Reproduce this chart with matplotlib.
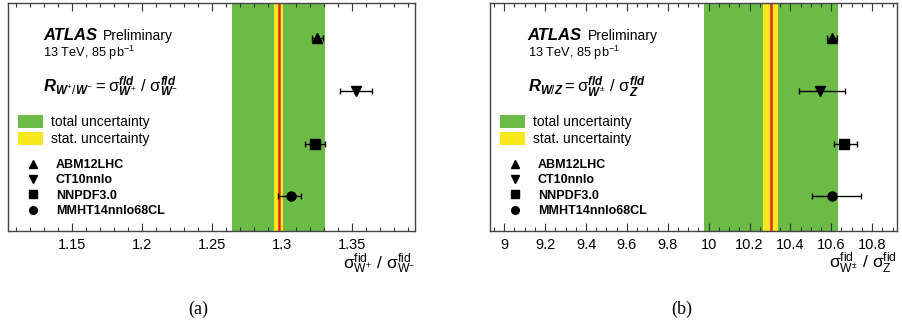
import matplotlib
matplotlib.use("Agg")
import matplotlib.pyplot as plt
from matplotlib.patches import Patch
from matplotlib.lines import Line2D
from matplotlib.ticker import MultipleLocator, FuncFormatter

plt.rcParams['font.family'] = ['Liberation Sans', 'DejaVu Sans']
plt.rcParams['mathtext.fontset'] = 'custom'
plt.rcParams['mathtext.rm'] = 'Liberation Sans'
plt.rcParams['mathtext.it'] = 'Liberation Sans:italic:bold'
plt.rcParams['mathtext.bf'] = 'Liberation Sans:bold'

# PDF predictions, top to bottom
pdf_sets = ['ABM12LHC', 'CT10nnlo', 'NNPDF3.0', 'MMHT14nnlo68CL']
pdf_markers = ['^', 'v', 's', 'o']

# W+/W- ratio
wpm_meas = 1.2975
wpm_stat = 0.0032
wpm_tot = 0.0333
wpm_pred = [1.325, 1.353, 1.3235, 1.3065]
wpm_err_lo = [0.004, 0.0115, 0.007, 0.0095]
wpm_err_hi = [0.004, 0.0115, 0.007, 0.007]

# W/Z ratio
wz_meas = 10.304
wz_stat = 0.037
wz_tot = 0.327
wz_pred = [10.602, 10.547, 10.664, 10.604]
wz_err_lo = [0.025, 0.105, 0.052, 0.10]
wz_err_hi = [0.025, 0.12, 0.06, 0.14]

GREEN = '#6cbb47'
YELLOW = '#f6e81c'
RED = '#e8262a'

fig = plt.figure(figsize=(9.02, 3.21), dpi=100)
ax1 = fig.add_axes([0.0089, 0.2804, 0.4512, 0.7103])
ax2 = fig.add_axes([0.5432, 0.2804, 0.4509, 0.7103])


def draw_panel(ax, meas, stat, tot, pred, err_lo, err_hi, xlim, major, minor,
               formula, xlabel, tx):
    ax.axvspan(meas - tot, meas + tot, color=GREEN, lw=0, zorder=1)
    ax.axvspan(meas - stat, meas + stat, color=YELLOW, lw=0, zorder=2)
    ax.axvline(meas, color=RED, lw=1.8, zorder=3)

    ypos = list(range(len(pred), 0, -1))
    for x, y, lo, hi, m in zip(pred, ypos, err_lo, err_hi, pdf_markers):
        ax.errorbar([x], [y], xerr=[[lo], [hi]], fmt=m, color='black',
                    ms=7 if m in '^v' else 6.5, elinewidth=1.0, capsize=2.5,
                    capthick=1.0, zorder=5)

    ax.set_xlim(*xlim)
    ax.set_ylim(0.34, 4.67)
    ax.set_yticks([])
    ax.xaxis.set_major_locator(MultipleLocator(major))
    ax.xaxis.set_minor_locator(MultipleLocator(minor))
    ax.xaxis.set_major_formatter(FuncFormatter(lambda v, p: f'{v:g}'))
    ax.tick_params(axis='x', which='both', direction='in', top=True,
                   labelsize=10.5, pad=5, color='#333333')
    ax.tick_params(axis='x', which='major', length=6, width=0.8)
    ax.tick_params(axis='x', which='minor', length=3, width=0.8)
    for sp in ax.spines.values():
        sp.set_color('#444444')
        sp.set_linewidth(1.0)
        sp.set_zorder(6)

    ax.text(tx, 0.838, 'ATLAS', transform=ax.transAxes, fontsize=12,
            fontweight='bold', fontstyle='italic', va='baseline')
    ax.text(tx + 0.148, 0.838, 'Preliminary', transform=ax.transAxes,
            fontsize=10, va='baseline')
    ax.text(tx, 0.765, r'13 TeV, 85 pb$^{\mathregular{-1}}$',
            transform=ax.transAxes, fontsize=9.2, va='baseline')
    ax.text(tx, 0.611, formula, transform=ax.transAxes, fontsize=12,
            va='baseline')
    ax.text(1.0, -0.088, xlabel, transform=ax.transAxes, fontsize=12.5,
            ha='right', va='top')

    band_handles = [Patch(facecolor=GREEN, edgecolor='none', label='total uncertainty'),
                    Patch(facecolor=YELLOW, edgecolor='none', label='stat. uncertainty')]
    leg1 = ax.legend(handles=band_handles, loc='upper left',
                     bbox_to_anchor=(0.012, 0.535), frameon=False, fontsize=10,
                     handlelength=1.8, handleheight=1.1, handletextpad=0.55,
                     labelspacing=0.2, borderaxespad=0)
    ax.add_artist(leg1)

    marker_handles = [Line2D([], [], ls='none', marker=m, color='black',
                             ms=6 if m in '^v' else 5.5, label=n)
                      for m, n in zip(pdf_markers, pdf_sets)]
    ax.legend(handles=marker_handles, loc='upper left',
              bbox_to_anchor=(0.025, 0.337), frameon=False,
              prop={'size': 9, 'weight': 'bold'}, handlelength=1.6,
              handletextpad=1.0, labelspacing=0.26, borderaxespad=0)


draw_panel(ax1, wpm_meas, wpm_stat, wpm_tot, wpm_pred, wpm_err_lo, wpm_err_hi,
           (1.104, 1.395), 0.05, 0.01,
           r'$R_{W^{+}/W^{-}} = \mathrm{\sigma}^{fld}_{W^{+}}$ / $\mathrm{\sigma}^{fld}_{W^{-}}$',
           r'$\mathrm{\sigma^{fid}_{W^{+}}\ /\ \sigma^{fid}_{W^{-}}}$', 0.086)
draw_panel(ax2, wz_meas, wz_stat, wz_tot, wz_pred, wz_err_lo, wz_err_hi,
           (8.93, 10.92), 0.2, 0.05,
           r'$R_{W/Z} = \mathrm{\sigma}^{fld}_{W^{\pm}}$ / $\mathrm{\sigma}^{fld}_{Z}$',
           r'$\mathrm{\sigma^{fid}_{W^{\pm}}\ /\ \sigma^{fid}_{Z}}$', 0.093)

fig.text(0.2195, 0.037, '(a)', family='Liberation Serif', fontsize=13,
         ha='center', va='center')
fig.text(0.756, 0.037, '(b)', family='Liberation Serif', fontsize=13,
         ha='center', va='center')

fig.savefig('out.png', dpi=100)
